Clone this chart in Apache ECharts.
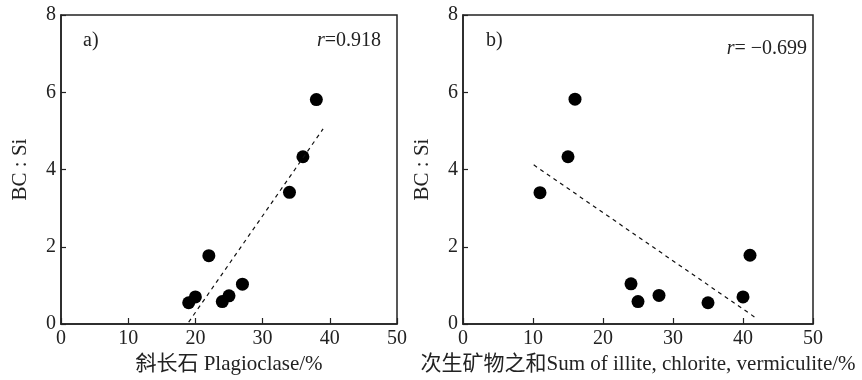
<!DOCTYPE html>
<html>
<head>
<meta charset="utf-8">
<script src="https://cdn.jsdelivr.net/npm/echarts@6/dist/echarts.min.js"></script>
<style>
  html, body { margin: 0; padding: 0; background: #fff; }
  #main { width: 862px; height: 380px; }
</style>
</head>
<body>
<div id="main"></div>
<script>
// a) 斜长石 vs BC:Si
const plagX = [19, 20, 22, 24, 25, 27, 34, 36, 38];
const plagY = [0.55, 0.70, 1.77, 0.58, 0.73, 1.03, 3.41, 4.33, 5.81];
const plagFit = [[19, 0.05], [39, 5.05]];

// b) 次生矿物之和 vs BC:Si
const secX = [11, 15, 16, 24, 25, 28, 35, 40, 41];
const secY = [3.40, 4.33, 5.82, 1.04, 0.58, 0.74, 0.55, 0.70, 1.78];
const secFit = [[10.1, 4.12], [41.9, 0.15]];

const xTicks = [0, 10, 20, 30, 40, 50];
const yTicks = [0, 2, 4, 6, 8];

const FONT = "'Liberation Serif', 'Noto Sans CJK SC', serif";
const INK = "#222";

function pairs(xs, ys) {
  return xs.map((x, i) => [x, ys[i]]);
}

function xAxisOf(idx, name) {
  return {
    type: "value", gridIndex: idx,
    min: xTicks[0], max: xTicks[xTicks.length - 1], interval: 10,
    name: name, nameLocation: "middle", nameGap: 25,
    nameTextStyle: { fontFamily: FONT, fontSize: 21, color: INK },
    axisLine: { lineStyle: { color: INK, width: 1.5 } },
    axisTick: { inside: true, length: 6, lineStyle: { color: INK, width: 1.2 } },
    axisLabel: { fontFamily: FONT, fontSize: 20, color: INK, margin: 5 },
    splitLine: { show: false }
  };
}

function yAxisOf(idx) {
  return {
    type: "value", gridIndex: idx,
    min: yTicks[0], max: yTicks[yTicks.length - 1], interval: 2,
    name: "BC : Si", nameLocation: "middle", nameGap: 30, nameRotate: 90,
    nameTextStyle: { fontFamily: FONT, fontSize: 21, color: INK },
    axisLine: { lineStyle: { color: INK, width: 1.5 } },
    axisTick: { inside: true, length: 5, lineStyle: { color: INK, width: 1.2 } },
    axisLabel: { fontFamily: FONT, fontSize: 20, color: INK, margin: 5 },
    splitLine: { show: false }
  };
}

const chart = echarts.init(document.getElementById("main"));
chart.setOption({
  animation: false,
  backgroundColor: "#fff",
  grid: [
    { left: 61, top: 15, width: 336, height: 309, show: true, borderColor: INK, borderWidth: 1.5 },
    { left: 463, top: 15, width: 350, height: 309, show: true, borderColor: INK, borderWidth: 1.5 }
  ],
  xAxis: [
    xAxisOf(0, "斜长石 Plagioclase/%"),
    xAxisOf(1, "次生矿物之和Sum of illite, chlorite, vermiculite/%")
  ],
  yAxis: [yAxisOf(0), yAxisOf(1)],
  series: [
    {
      type: "line", xAxisIndex: 0, yAxisIndex: 0, data: plagFit,
      symbol: "none", lineStyle: { color: "#111", width: 1.2, type: [4, 4] }
    },
    {
      type: "scatter", xAxisIndex: 0, yAxisIndex: 0, data: pairs(plagX, plagY),
      symbolSize: 13, itemStyle: { color: "#000", opacity: 1 }
    },
    {
      type: "line", xAxisIndex: 1, yAxisIndex: 1, data: secFit,
      symbol: "none", lineStyle: { color: "#111", width: 1.2, type: [4, 4] }
    },
    {
      type: "scatter", xAxisIndex: 1, yAxisIndex: 1, data: pairs(secX, secY),
      symbolSize: 13, itemStyle: { color: "#000", opacity: 1 }
    }
  ],
  graphic: [
    { type: "text", left: 83, top: 31, style: { text: "a)", font: "20px " + FONT, fill: INK } },
    { type: "text", left: 486, top: 31, style: { text: "b)", font: "20px " + FONT, fill: INK } },
    {
      type: "text", right: 862 - 381, top: 31,
      style: {
        text: "{i|r}=0.918", font: "20px " + FONT, fill: INK,
        rich: { i: { fontStyle: "italic", fontFamily: FONT, fontSize: 20 } }
      }
    },
    {
      type: "text", right: 862 - 807, top: 39,
      style: {
        text: "{i|r}= \u22120.699", font: "20px " + FONT, fill: INK,
        rich: { i: { fontStyle: "italic", fontFamily: FONT, fontSize: 20 } }
      }
    }
  ]
});
</script>
</body>
</html>
